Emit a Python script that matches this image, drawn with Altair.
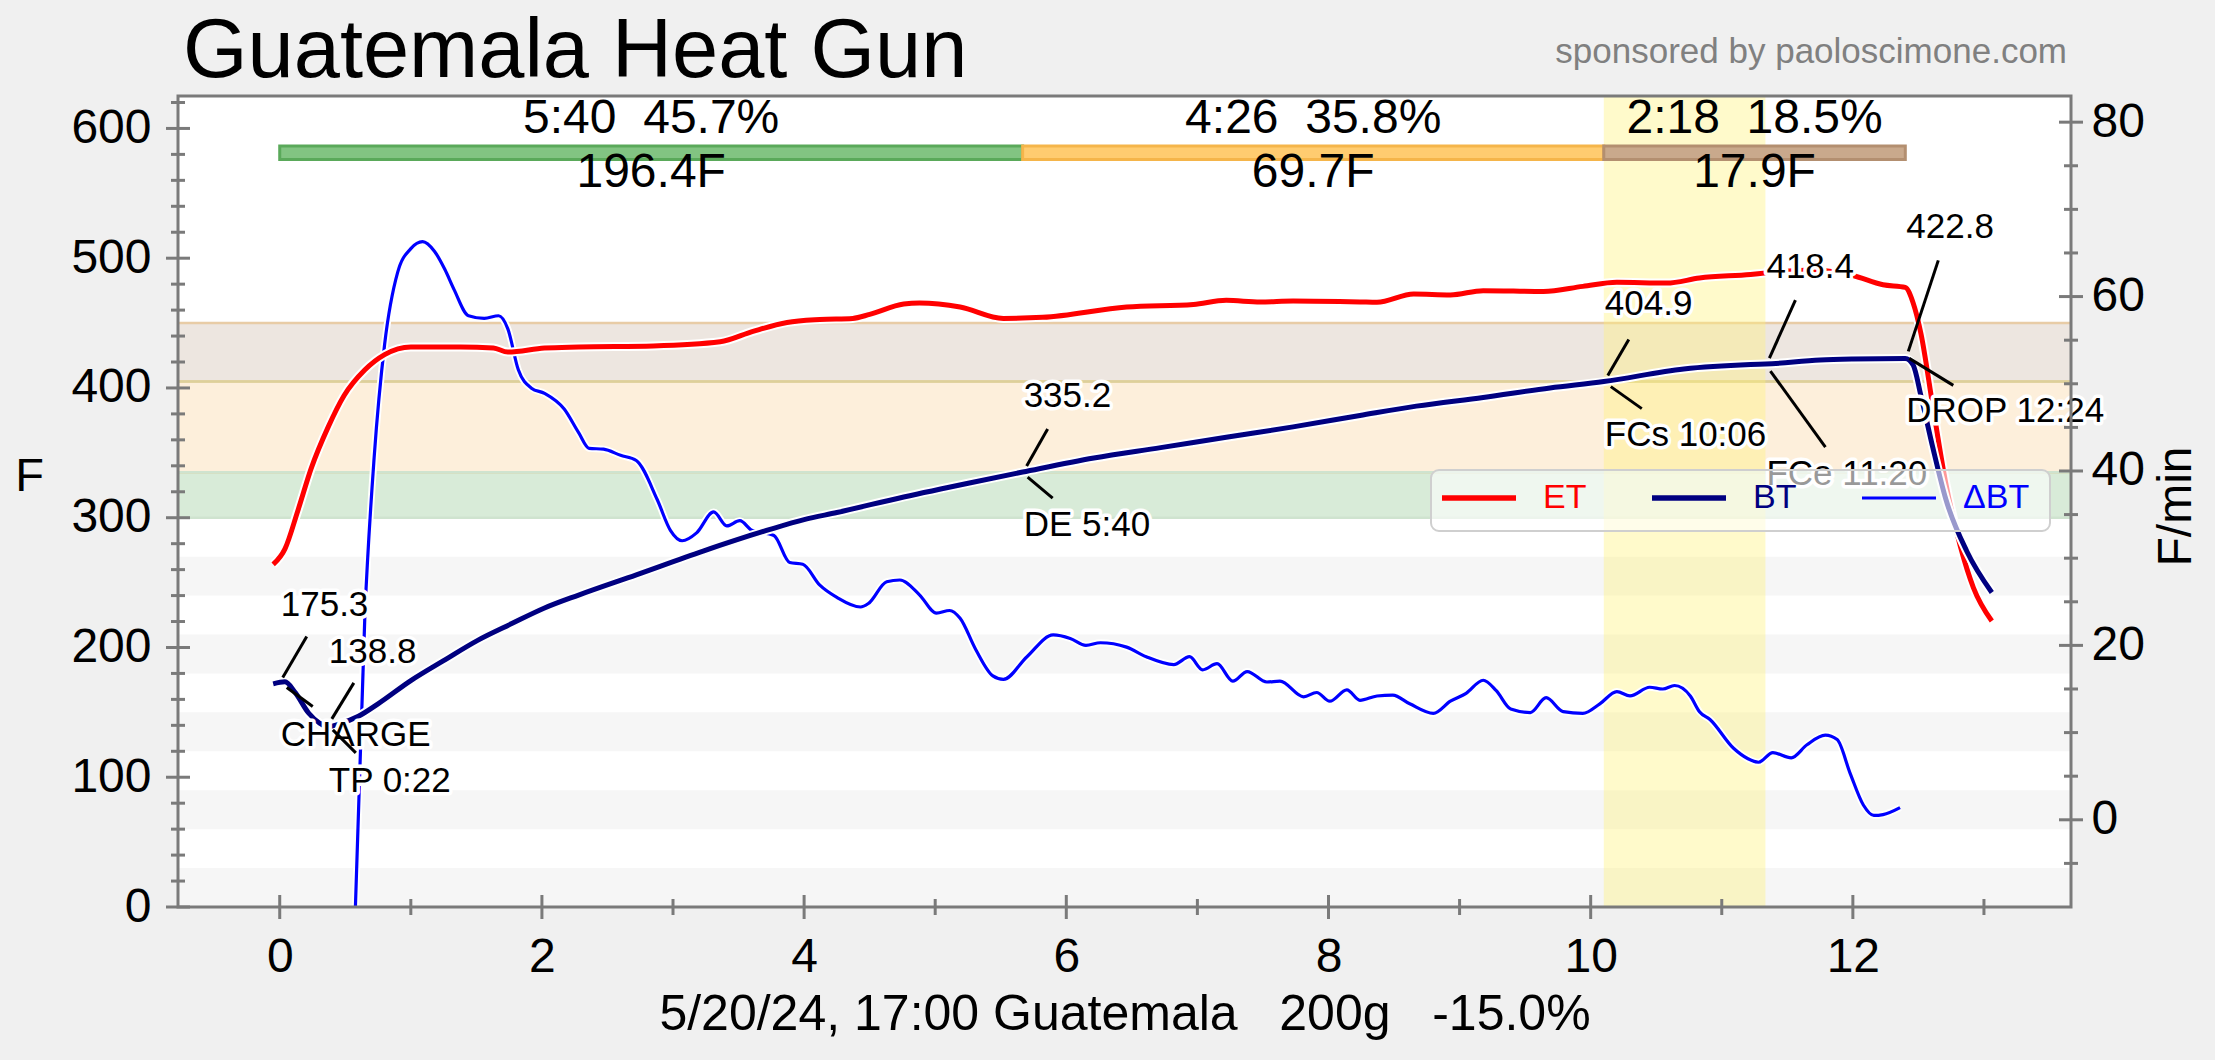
import altair as alt
import pandas as pd

# ---------------- data ----------------
et_time = [-0.05, 0.04, 0.14, 0.24, 0.37, 0.49, 0.65, 0.80, 1.00, 1.38, 1.63, 1.74, 2.02, 2.28, 2.85,
           3.36, 3.61, 3.87, 4.12, 4.37, 4.50, 4.76, 4.88, 5.19, 5.52, 5.82, 6.46, 6.97, 7.22, 7.48,
           7.73, 8.24, 8.37, 8.65, 8.93, 9.18, 9.64, 9.94, 10.20, 10.58, 10.83, 11.22, 11.34, 11.70,
           12.00, 12.23, 12.40, 12.46, 12.52, 12.61, 12.71, 12.82, 12.92, 13.06]
et_temp = [264, 276, 306, 338, 370, 394, 414, 425.7, 431.6, 431.6, 430.8, 427.7, 430.8, 431.6, 432.4,
           435.6, 443.6, 450.5, 452.8, 453.6, 456.7, 464.7, 465.5, 462.4, 453.6, 454.4, 462.4, 464.4, 467.5, 466.3,
           467.0, 466.3, 466.0, 472.4, 471.7, 475.0, 474.3, 478.3, 481.5, 480.8, 484.7, 487.5, 488.7, 491.0,
           486.7, 479.5, 477.5, 465.5, 441.6, 385.9, 326.0, 278.0, 246.0, 220.4]

bt_time = [-0.05, 0.04, 0.12, 0.22, 0.30, 0.367, 0.45, 0.60, 0.75, 1.00, 1.26, 1.51, 1.77, 2.02, 2.28,
           2.72, 3.23, 3.74, 4.00, 4.25, 4.76, 5.27, 5.667, 6.21, 6.72, 7.22, 7.73, 8.24, 8.67, 9.18,
           9.69, 10.10, 10.71, 11.22, 11.333, 11.75, 12.00, 12.40, 12.46, 12.52, 12.61, 12.71, 12.87, 13.06]
bt_temp = [172, 173.5, 165, 149.5, 142, 138.8, 141, 147, 156.6, 174.5, 190.5, 205.5, 218.4, 230.4, 240.4,
           256, 274.3, 291, 298.5, 304, 316, 327, 335.2, 346, 354, 362, 370, 378.8, 386, 392.7,
           400, 404.9, 414.6, 418, 418.4, 421.5, 422.3, 422.8, 417.7, 393.7, 354, 314, 274, 242.4]

ror_time = [0.56, 0.65, 0.72, 0.80, 0.90, 1.00, 1.09, 1.18, 1.26, 1.33, 1.44, 1.56, 1.67, 1.74, 1.82,
            1.92, 2.02, 2.17, 2.28, 2.36, 2.47, 2.60, 2.72, 2.88, 2.98, 3.07, 3.18, 3.31, 3.41, 3.51,
            3.60, 3.77, 3.89, 3.99, 4.12, 4.25, 4.43, 4.49, 4.63, 4.73, 4.88, 5.01, 5.11, 5.19, 5.31,
            5.44, 5.52, 5.70, 5.90, 6.03, 6.15, 6.26, 6.46, 6.61, 6.82, 6.94, 7.04, 7.15, 7.27, 7.38,
            7.53, 7.63, 7.81, 7.91, 8.01, 8.14, 8.24, 8.37, 8.49, 8.62, 8.80, 8.93, 9.05, 9.18, 9.28,
            9.39, 9.54, 9.66, 9.79, 9.94, 10.07, 10.20, 10.30, 10.45, 10.55, 10.64, 10.76, 10.83, 10.91,
            11.09, 11.20, 11.28, 11.39, 11.53, 11.65, 11.79, 11.88, 11.98, 12.08, 12.16, 12.23, 12.36]
ror_value = [-18, 23.7, 41.5, 54.5, 62.8, 65.5, 66.3, 65.2, 63.1, 60.8, 57.8, 57.5, 57.8, 56.3, 51.6,
             49.5, 48.9, 47.1, 44.4, 42.6, 42.5, 41.8, 41.2, 36.7, 33.2, 32.0, 32.9, 35.3, 33.7, 34.3,
             33.2, 32.6, 29.5, 29.3, 26.9, 25.5, 24.4, 24.8, 27.3, 27.5, 25.8, 23.7, 24.0, 23.1, 19.5,
             16.5, 16.1, 18.7, 21.2, 20.8, 20.0, 20.3, 19.8, 18.7, 17.8, 18.7, 17.2, 17.9, 15.9, 17.0,
             15.8, 15.9, 14.1, 14.6, 13.6, 14.9, 13.7, 14.2, 14.3, 13.3, 12.2, 13.6, 14.5, 16.0, 14.8,
             12.7, 12.3, 14.0, 12.4, 12.2, 13.3, 14.7, 14.2, 15.2, 15.0, 15.4, 14.2, 12.4, 11.5,
             8.2, 7.0, 6.6, 7.7, 7.1, 8.6, 9.7, 9.2, 5.3, 1.7, 0.5, 0.6, 1.4]

event_time = [0.0, 0.367, 5.667, 10.1, 11.333, 12.4]
event_temp = [175.3, 138.8, 335.2, 404.9, 418.4, 422.8]
event_value = ["175.3", "138.8", "335.2", "404.9", "418.4", "422.8"]
event_label = ["CHARGE", "TP 0:22", "DE 5:40", "FCs 10:06", "FCe 11:20", "DROP 12:24"]

NB = "\u00a0"  # keeps the doubled / tripled spaces of the original texts
phase_start = [0.0, 5.667, 10.1]
phase_end = [5.667, 10.1, 12.4]
phase_top = ["5:40" + NB + " 45.7%", "4:26" + NB + " 35.8%", "2:18" + NB + " 18.5%"]
phase_bottom = ["196.4F", "69.7F", "17.9F"]
phase_fill = ["#82c482", "#ffcc70", "#c9a98c"]
phase_edge = ["#5aa95a", "#f5b54a", "#b38f70"]

band_low = [300, 335, 405]
band_high = [335, 405, 450]
band_fill = ["#d8ebd8", "#fdefdb", "#ede6e0"]
band_edge = ["#cfe3cf", "#ddd09a", "#e8cca6"]
stripe_low = [0, 60, 120, 180, 240]
stripe_high = [30, 90, 150, 210, 270]

fc_start = [10.1]
fc_end = [11.333]

legend_names = ["ET", "BT", "\u0394BT"]
legend_colors = ["#ff0000", "#000080", "#0000ff"]

title_text = "Guatemala Heat Gun"
sponsor_text = "sponsored by paoloscimone.com"
x_title = "5/20/24, 17:00 Guatemala" + NB + NB + " 200g" + NB + NB + " -15.0%"

left_major = [0, 100, 200, 300, 400, 500, 600]
left_minor = [v for v in range(20, 640, 20) if v % 100 != 0]
right_major = [0, 20, 40, 60, 80]
right_minor = [-5, 5, 10, 15, 25, 30, 35, 45, 50, 55, 65, 70, 75]
x_major = [0, 2, 4, 6, 8, 10, 12]
x_minor = [1, 3, 5, 7, 9, 11, 13]

# ---------------- layout / style ----------------
W, H = 1893, 811
FONT = "Liberation Sans"
AXC = "#7a7a7a"

xs = alt.Scale(domain=[-0.776, 13.664], nice=False, zero=False)
ys = alt.Scale(domain=[0, 625], nice=False, zero=False)
rs = alt.Scale(domain=[-10, 83], nice=False, zero=False)

x_axis = alt.Axis(values=x_major, ticks=False, tickSize=0, domain=False, grid=False,
                  labelFontSize=48, labelFont=FONT, labelColor="black", labelPadding=26,
                  labelFlush=False, labelOverlap=False,
                  title=x_title, titleFont=FONT, titleFontSize=50, titleFontWeight="normal",
                  titleColor="black", titleY=107, titleBaseline="middle")
yl_axis = alt.Axis(values=left_major, orient="left", ticks=False, tickSize=0, domain=False, grid=False,
                   labelFontSize=48, labelFont=FONT, labelColor="black", labelPadding=27,
                   labelOverlap=False, labelFlush=False,
                   title="F", titleFont=FONT, titleFontSize=47, titleFontWeight="normal",
                   titleColor="black", titleAngle=0, titleX=-149, titleY=380,
                   titleAlign="center", titleBaseline="middle")
yr_axis = alt.Axis(values=right_major, orient="right", ticks=False, tickSize=0, domain=False, grid=False,
                   labelFontSize=48, labelFont=FONT, labelColor="black", labelPadding=20,
                   labelOverlap=False, labelFlush=False,
                   title="F/min", titleFont=FONT, titleFontSize=48, titleFontWeight="normal",
                   titleColor="black", titleAngle=270, titleX=105, titleY=410,
                   titleAlign="center", titleBaseline="middle")


def X(f):
    return alt.X(f, type="quantitative", scale=xs, axis=x_axis)


def YB(f):  # background left-scale layer
    return alt.Y(f, type="quantitative", scale=ys, axis=yl_axis)


def YF(f):  # foreground left-scale layer
    return alt.Y(f, type="quantitative", scale=ys, axis=None)


def YR(f):
    return alt.Y(f, type="quantitative", scale=rs, axis=yr_axis)


one = pd.DataFrame({"k": [0]})
et_df = pd.DataFrame({"t": et_time, "v": et_temp})
bt_df = pd.DataFrame({"t": bt_time, "v": bt_temp})
ror_df = pd.DataFrame({"t": ror_time, "v": ror_value})
band_df = pd.DataFrame({"lo": band_low, "hi": band_high, "fill": band_fill, "edge": band_edge})
stripe_df = pd.DataFrame({"lo": stripe_low, "hi": stripe_high})
fc_df = pd.DataFrame({"s": fc_start, "e": fc_end})
phase_df = pd.DataFrame({"s": phase_start, "e": phase_end, "top": phase_top, "bot": phase_bottom,
                         "fill": phase_fill, "edge": phase_edge})
phase_df["mid"] = (phase_df["s"] + phase_df["e"]) / 2
phase_df["lo"] = 576.0
phase_df["hi"] = 586.5
phase_df["ytop"] = 607.0
phase_df["ybot"] = 566.0

# ---------------- background (left scale) ----------------
stripes = alt.Chart(stripe_df).mark_rect(color="#f6f6f6").encode(
    x=alt.value(0), x2=alt.value(W), y=YB("lo"), y2=alt.Y2("hi"))
bands = alt.Chart(band_df).mark_rect().encode(
    x=alt.value(0), x2=alt.value(W), y=YB("lo"), y2=alt.Y2("hi"),
    color=alt.Color("fill:N", scale=None))
band_edges_lo = alt.Chart(band_df).mark_rule(strokeWidth=2.5).encode(
    x=alt.value(0), x2=alt.value(W), y=YB("lo"), color=alt.Color("edge:N", scale=None))
band_edges_hi = alt.Chart(band_df).mark_rule(strokeWidth=2.5).encode(
    x=alt.value(0), x2=alt.value(W), y=YB("hi"), color=alt.Color("edge:N", scale=None))
fc_band = alt.Chart(fc_df).mark_rect(color="#fff176", opacity=0.38).encode(
    x=X("s"), x2=alt.X2("e"), y=alt.value(0), y2=alt.value(H))
phase_bars = alt.Chart(phase_df).mark_rect(strokeWidth=3, opacity=1).encode(
    x=X("s"), x2=alt.X2("e"), y=YB("lo"), y2=alt.Y2("hi"),
    fill=alt.Fill("fill:N", scale=None), stroke=alt.Stroke("edge:N", scale=None))

bg = alt.layer(stripes, bands, band_edges_lo, band_edges_hi, fc_band, phase_bars)

# ---------------- RoR (right scale) ----------------
ror_halo = alt.Chart(ror_df).mark_line(color="white", strokeWidth=7, clip=True, interpolate="monotone").encode(
    x=X("t"), y=YR("v"))
ror_line = alt.Chart(ror_df).mark_line(color="#0000ff", strokeWidth=3.2, clip=True, interpolate="monotone").encode(
    x=X("t"), y=YR("v"))
rmaj = alt.Chart(pd.DataFrame({"y": right_major})).mark_rule(color=AXC, strokeWidth=3).encode(
    y=YR("y"), x=alt.value(W - 12), x2=alt.value(W + 12))
rmin = alt.Chart(pd.DataFrame({"y": right_minor})).mark_rule(color=AXC, strokeWidth=3).encode(
    y=YR("y"), x=alt.value(W - 7), x2=alt.value(W + 7))
ror_layer = alt.layer(ror_halo, ror_line, rmaj, rmin)

# ---------------- foreground (left scale) ----------------
fg_layers = []
for df, col in [(et_df, "#ff0000"), (bt_df, "#000080")]:
    fg_layers.append(alt.Chart(df).mark_line(color="white", strokeWidth=9, interpolate="monotone").encode(
        x=X("t"), y=YF("v")))
    fg_layers.append(alt.Chart(df).mark_line(color=col, strokeWidth=5, interpolate="monotone").encode(
        x=X("t"), y=YF("v")))

# phase labels
for fld, yf in [("top", "ytop"), ("bot", "ybot")]:
    fg_layers.append(alt.Chart(phase_df).mark_text(font=FONT, fontSize=48, align="center",
                                                   baseline="middle", color="black").encode(
        x=X("mid"), y=YF(yf), text=f"{fld}:N"))

# event annotations (value above, label below, with leader lines)
ann_style = [
    dict(vdy=-75, ldy=55, vl=(3, -2, 27, -43), ll=(7, 8, 33, 27)),
    dict(vdy=-75, ldy=54, vl=(4, -8, 26, -44), ll=(5, 3, 28, 26)),
    dict(vdy=-76, ldy=53, vl=(4, -6, 25, -43), ll=(5, 5, 30, 26)),
    dict(vdy=-78, ldy=53, vl=(4, -6, 25, -42), ll=(7, 5, 38, 27)),
    dict(vdy=-97, ldy=110, vl=(4, -6, 30, -64), ll=(5, 7, 60, 83)),
    dict(vdy=-131, ldy=53, vl=(3, -7, 33, -98), ll=(4, 0, 48, 27)),
]
for i in range(len(event_time)):
    d = pd.DataFrame({"t": [event_time[i]], "v": [event_temp[i]],
                      "val": [event_value[i]], "lab": [event_label[i]]})
    st = ann_style[i]
    for seg in (st["vl"], st["ll"]):
        fg_layers.append(alt.Chart(d).mark_rule(color="black", strokeWidth=3,
                                                xOffset=seg[0], yOffset=seg[1],
                                                x2Offset=seg[2], y2Offset=seg[3]).encode(
            x=X("t"), x2=alt.X2("t"), y=YF("v"), y2=alt.Y2("v")))
    for fld, dy in (("val", st["vdy"]), ("lab", st["ldy"])):
        fg_layers.append(alt.Chart(d).mark_text(font=FONT, fontSize=35, align="left", baseline="middle",
                                                dx=1, dy=dy, color="white", stroke="white",
                                                strokeWidth=7, strokeJoin="round").encode(
            x=X("t"), y=YF("v"), text=f"{fld}:N"))
        fg_layers.append(alt.Chart(d).mark_text(font=FONT, fontSize=35, align="left", baseline="middle",
                                                dx=1, dy=dy, color="black").encode(
            x=X("t"), y=YF("v"), text=f"{fld}:N"))

# ticks (in/out like the reference)
fg_layers.append(alt.Chart(pd.DataFrame({"y": left_major})).mark_rule(color=AXC, strokeWidth=3).encode(
    y=YF("y"), x=alt.value(-12), x2=alt.value(12)))
fg_layers.append(alt.Chart(pd.DataFrame({"y": left_minor})).mark_rule(color=AXC, strokeWidth=3).encode(
    y=YF("y"), x=alt.value(-7), x2=alt.value(7)))
fg_layers.append(alt.Chart(pd.DataFrame({"x": x_major})).mark_rule(color=AXC, strokeWidth=3).encode(
    x=X("x"), y=alt.value(H - 12), y2=alt.value(H + 12)))
fg_layers.append(alt.Chart(pd.DataFrame({"x": x_minor})).mark_rule(color=AXC, strokeWidth=3).encode(
    x=X("x"), y=alt.value(H - 8), y2=alt.value(H + 8)))

# frame
fg_layers.append(alt.Chart(one).mark_rect(fillOpacity=0, stroke=AXC, strokeWidth=3).encode(
    x=alt.value(0), x2=alt.value(W), y=alt.value(0), y2=alt.value(H)))

# legend
fg_layers.append(alt.Chart(one).mark_rect(fill="white", fillOpacity=0.6, stroke="#cfcfcf",
                                          strokeWidth=2, cornerRadius=8).encode(
    x=alt.value(1253), x2=alt.value(1872), y=alt.value(374), y2=alt.value(435)))
leg_x = [1264, 1474, 1684]
for i, name in enumerate(legend_names):
    sw = 3 if i == 2 else 5.5
    fg_layers.append(alt.Chart(one).mark_rule(color=legend_colors[i], strokeWidth=sw).encode(
        x=alt.value(leg_x[i]), x2=alt.value(leg_x[i] + 74), y=alt.value(402)))
    fg_layers.append(alt.Chart(one).mark_text(text=name, font=FONT, fontSize=34, align="left",
                                              baseline="middle", color=legend_colors[i]).encode(
        x=alt.value(leg_x[i] + 101), y=alt.value(402)))

# title texts
fg_layers.append(alt.Chart(one).mark_text(text=title_text, font=FONT, fontSize=83, align="left",
                                          baseline="alphabetic", color="black").encode(
    x=alt.value(5), y=alt.value(-19)))
fg_layers.append(alt.Chart(one).mark_text(text=sponsor_text, font=FONT, fontSize=35, align="right",
                                          baseline="alphabetic", color="#808080").encode(
    x=alt.value(1889), y=alt.value(-33)))

fg = alt.layer(*fg_layers)

chart = alt.layer(bg, ror_layer, fg).resolve_scale(y="independent").properties(
    width=W, height=H,
    autosize=alt.AutoSizeParams(type="none"),
    padding={"left": 178, "top": 96, "right": 144, "bottom": 153},
    background="#f0f0f0",
).configure_view(stroke=None, fill="white")

chart.save("out.html", embed_options={"renderer": "svg", "actions": False})
